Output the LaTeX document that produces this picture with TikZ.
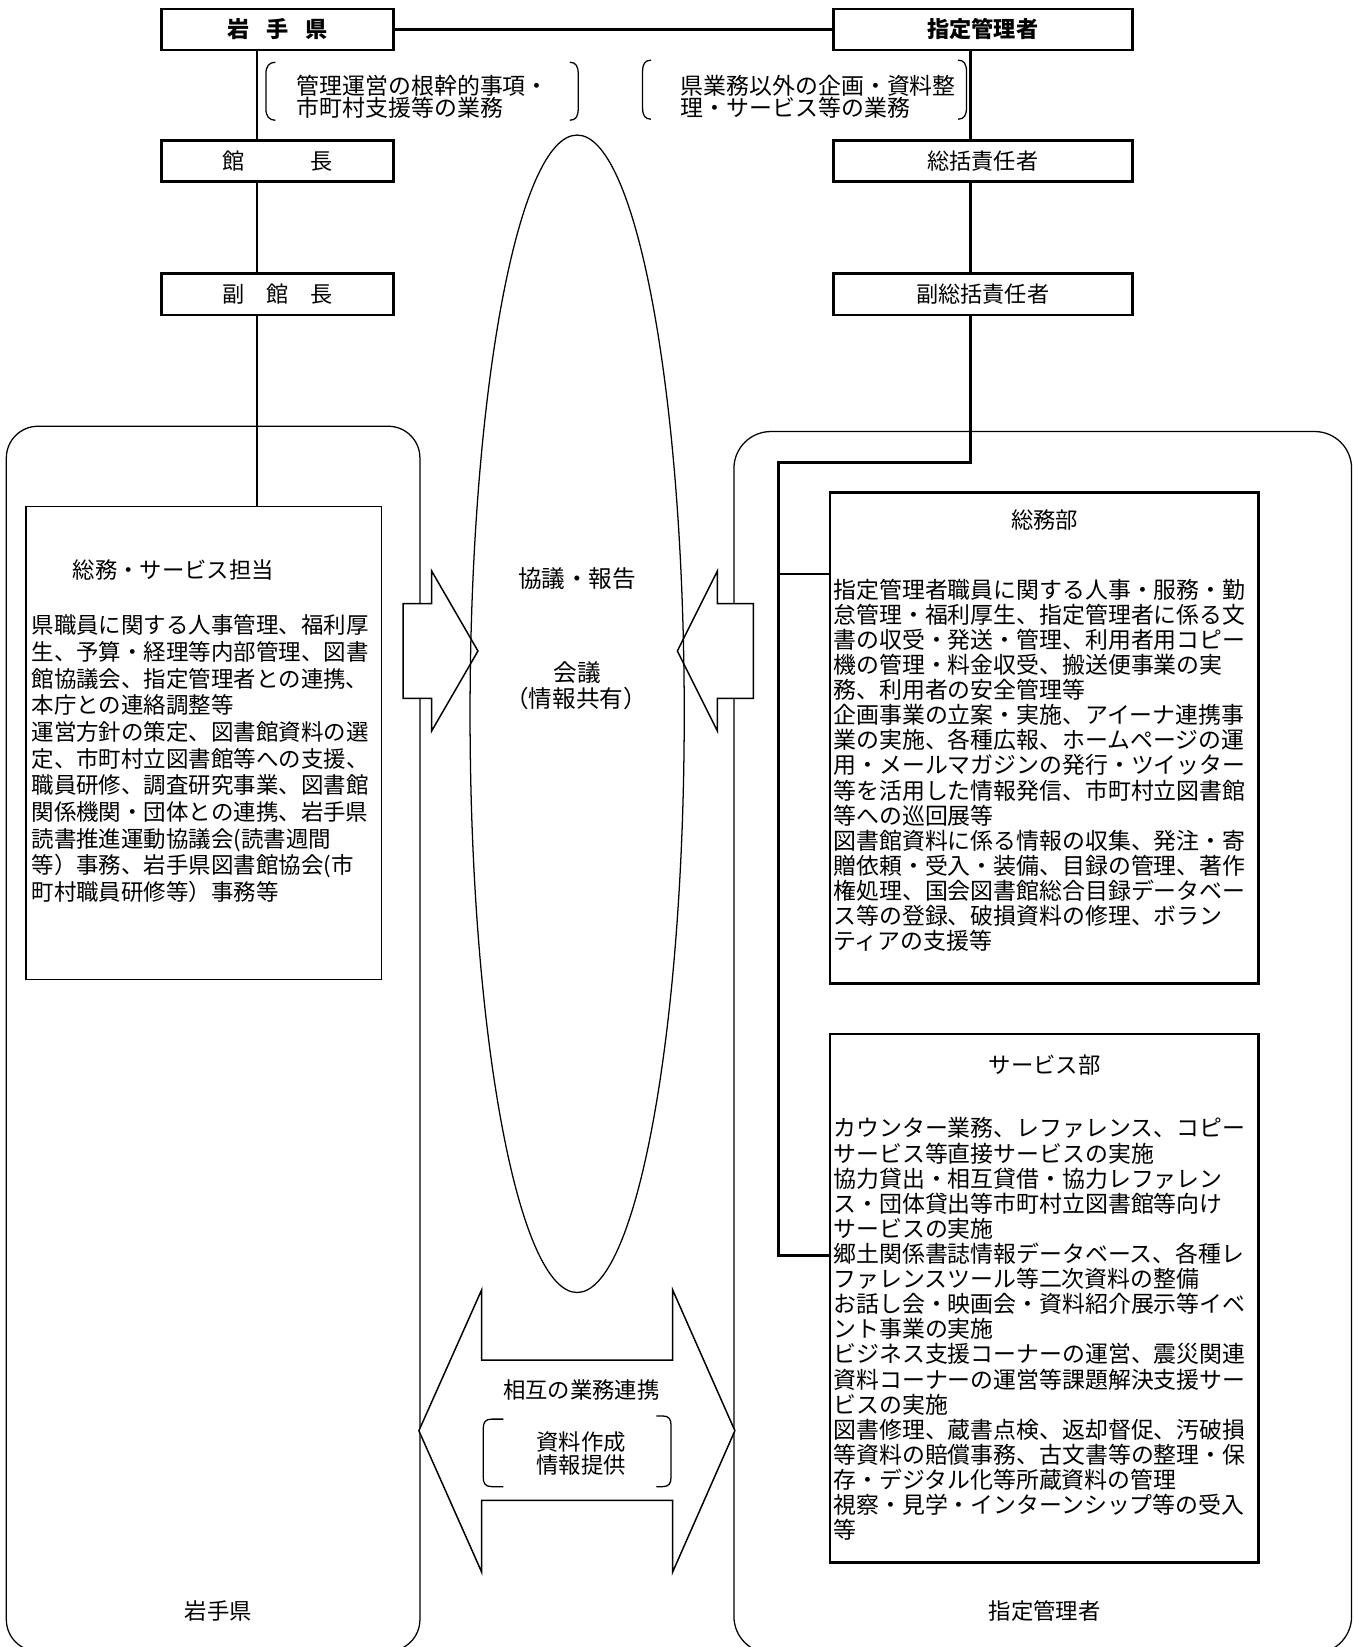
\documentclass[tikz,border=0pt]{standalone}
\usepackage{fontspec}
\setmainfont{Noto Sans CJK JP}
\usetikzlibrary{shapes.geometric}
\tikzset{
  topbox/.style={draw, line width=1.3pt, fill=white, inner sep=0pt, minimum height=19.5pt, font=\fontsize{10.5}{12}\selectfont},
  lbox/.style={topbox, minimum width=110pt},
  rbox/.style={topbox, minimum width=141.5pt},
  conn/.style={line width=1.3pt},
  topconn/.style={line width=1pt},
  group/.style={draw, line width=0.6pt, inner sep=0pt},
  blockarrow/.style={draw, line width=0.7pt, fill=white, line join=miter},
  bracket/.style={line width=0.6pt},
  lbl/.style={inner sep=0pt, font=\fontsize{10.6}{12}\selectfont},
  etext/.style={inner sep=0pt, font=\fontsize{11.2}{13}\selectfont},
  note/.style={inner sep=0pt, anchor=north west, align=left, font=\fontsize{10.85}{10.3}\selectfont},
  lbody/.style={inner sep=0pt, anchor=north west, align=left, font=\fontsize{10.65}{12.63}\selectfont},
  rbody/.style={inner sep=0pt, anchor=north west, align=left, font=\fontsize{10.85}{11.9}\selectfont},
}
\begin{document}
\begin{tikzpicture}[x=0.5pt, y=-0.5pt]
\useasboundingbox (0,0) rectangle (1283,1561);
% outer groups
\node[group, rounded corners=15pt, minimum width=196pt, minimum height=580.5pt] (lgroup) at (202,984.5) {};
\node[group, rounded corners=17.5pt, minimum width=292.7pt, minimum height=579pt] (rgroup) at (988.3,988) {};
% block arrows
\draw[blockarrow] (382,572) -- (409,572) -- (409,541) -- (453,617) -- (409,693) -- (409,662) -- (382,662) -- cycle;
\draw[blockarrow] (714,572) -- (680,572) -- (680,541) -- (642,617) -- (680,693) -- (680,662) -- (714,662) -- cycle;
\draw[blockarrow] (397,1356) -- (456.5,1222.5) -- (456.5,1289) -- (637.5,1289) -- (637.5,1222.5) -- (696.5,1356) -- (637.5,1490) -- (637.5,1422) -- (456.5,1422) -- (456.5,1490) -- cycle;
% meeting ellipse
\node[draw, ellipse, line width=0.6pt, minimum width=101.5pt, minimum height=548.5pt, inner sep=0pt] (meet) at (547,676.5) {};
% top boxes
\node[lbox, font=\bfseries\fontsize{10.5}{12}\selectfont] (iwate) at (263,28) {岩\hspace{8pt}手\hspace{8pt}県};
\node[rbox, font=\bfseries\fontsize{10.5}{12}\selectfont] (shitei) at (931.5,28) {指定管理者};
\node[lbox] (kancho) at (263,152.5) {館　　　長};
\node[lbox] (fukukancho) at (263,279) {副　館　長};
\node[rbox] (sokatsu) at (931.5,152.5) {総括責任者};
\node[rbox] (fukusokatsu) at (931.5,279) {副総括責任者};
% inner boxes
\node[draw, line width=0.6pt, minimum width=168.55pt, minimum height=224pt, inner sep=0pt] (sa) at (193.2,704) {};
\node[draw, line width=1.3pt, minimum width=203.2pt, minimum height=232.5pt, inner sep=0pt] (somu) at (989.8,699.5) {};
\node[draw, line width=1.3pt, minimum width=203.2pt, minimum height=250.5pt, inner sep=0pt] (service) at (989.8,1230.5) {};
% connectors
\coordinate (lx) at (243.5,0);
\coordinate (rx) at (920,438);
\coordinate (rtrunk) at (737.6,438);
\coordinate (rbranch) at (737.6,544);
\coordinate (rbot) at (737.6,1190);
\draw[topconn] (iwate.east) -- (shitei.west);
\draw[conn] (iwate.south -| lx) -- (kancho.north -| lx);
\draw[conn] (kancho.south -| lx) -- (fukukancho.north -| lx);
\draw[conn] (fukukancho.south -| lx) -- (sa.north -| lx);
\draw[conn] (shitei.south -| rx) -- (sokatsu.north -| rx);
\draw[conn] (sokatsu.south -| rx) -- (fukusokatsu.north -| rx);
\draw[conn, line join=miter] (fukusokatsu.south -| rx) -- (rx) -- (rtrunk) -- (rbot) -- (rbot -| service.west);
\draw[conn] (rbranch) -- (rbranch -| somu.west);
% brackets
\draw[bracket] (261,59) .. controls (255,59) and (252,63) .. (252,70) -- (252,103) .. controls (252,110) and (255,114) .. (261,114);
\draw[bracket] (540,59) .. controls (546,59) and (548,63) .. (548,70) -- (548,103) .. controls (548,110) and (546,114) .. (540,114);
\draw[bracket] (617,57) .. controls (611,57) and (609,61) .. (609,68) -- (609,102) .. controls (609,109) and (611,113) .. (617,113);
\draw[bracket] (908,57) .. controls (914,57) and (916,61) .. (916,68) -- (916,102) .. controls (916,109) and (914,113) .. (908,113);
\draw[bracket] (477,1345) -- (466,1345) .. controls (460,1345) and (458,1348) .. (458,1354) -- (458,1400) .. controls (458,1406) and (460,1409) .. (466,1409) -- (477,1409);
\draw[bracket] (622,1342) -- (628,1342) .. controls (634,1342) and (636,1345) .. (636,1351) -- (636,1400) .. controls (636,1406) and (634,1409) .. (628,1409) -- (622,1409);
% notes
\node[note] (lnote) at (281,71) {管理運営の根幹的事項・\\市町村支援等の業務};
\node[note] (rnote) at (645,71) {県業務以外の企画・資料整\\理・サービス等の業務};
% ellipse texts
\node[etext] (kyogi) at (547,548) {協議・報告};
\node[etext] (kaigi) at (547,637) {会議};
\node[etext] (joho) at (546,662.5) {（情報共有）};
% double arrow texts
\node[lbl] (sogo) at (551,1317) {相互の業務連携};
\node[lbl] (shiryo) at (551,1366.5) {資料作成};
\node[lbl] (teikyo) at (551,1388.5) {情報提供};
% group names
\node[lbl] (lname) at (207,1527) {岩手県};
\node[lbl] (rname) at (990,1527) {指定管理者};
% titles
\node[lbl, anchor=west] (satitle) at (68.5,540) {総務・サービス担当};
\node[lbl] (somutitle) at (990,493) {総務部};
\node[lbl] (servtitle) at (990,1009) {サービス部};
% bodies
\node[lbody] (sabody) at (29.5,582.4) {県職員に関する人事管理、福利厚\\生、予算・経理等内部管理、図書\\館協議会、指定管理者との連携、\\本庁との連絡調整等\\運営方針の策定、図書館資料の選\\定、市町村立図書館等への支援、\\職員研修、調査研究事業、図書館\\関係機関・団体との連携、岩手県\\読書推進運動協議会(読書週間\\等）事務、岩手県図書館協会(市\\町村職員研修等）事務等};
\node[rbody] (somubody) at (789.5,548.2) {指定管理者職員に関する人事・服務・勤\\怠管理・福利厚生、指定管理者に係る文\\書の収受・発送・管理、利用者用コピー\\機の管理・料金収受、搬送便事業の実\\務、利用者の安全管理等\\企画事業の立案・実施、アイーナ連携事\\業の実施、各種広報、ホームページの運\\用・メールマガジンの発行・ツイッター\\等を活用した情報発信、市町村立図書館\\等への巡回展等\\図書館資料に係る情報の収集、発注・寄\\贈依頼・受入・装備、目録の管理、著作\\権処理、国会図書館総合目録データベー\\ス等の登録、破損資料の修理、ボラン\\ティアの支援等};
\node[rbody] (servbody) at (789.5,1058.9) {カウンター業務、レファレンス、コピー\\サービス等直接サービスの実施\\協力貸出・相互貸借・協力レファレン\\ス・団体貸出等市町村立図書館等向け\\サービスの実施\\郷土関係書誌情報データベース、各種レ\\ファレンスツール等二次資料の整備\\お話し会・映画会・資料紹介展示等イベ\\ント事業の実施\\ビジネス支援コーナーの運営、震災関連\\資料コーナーの運営等課題解決支援サー\\ビスの実施\\図書修理、蔵書点検、返却督促、汚破損\\等資料の賠償事務、古文書等の整理・保\\存・デジタル化等所蔵資料の管理\\視察・見学・インターンシップ等の受入\\等};
\end{tikzpicture}
\end{document}
